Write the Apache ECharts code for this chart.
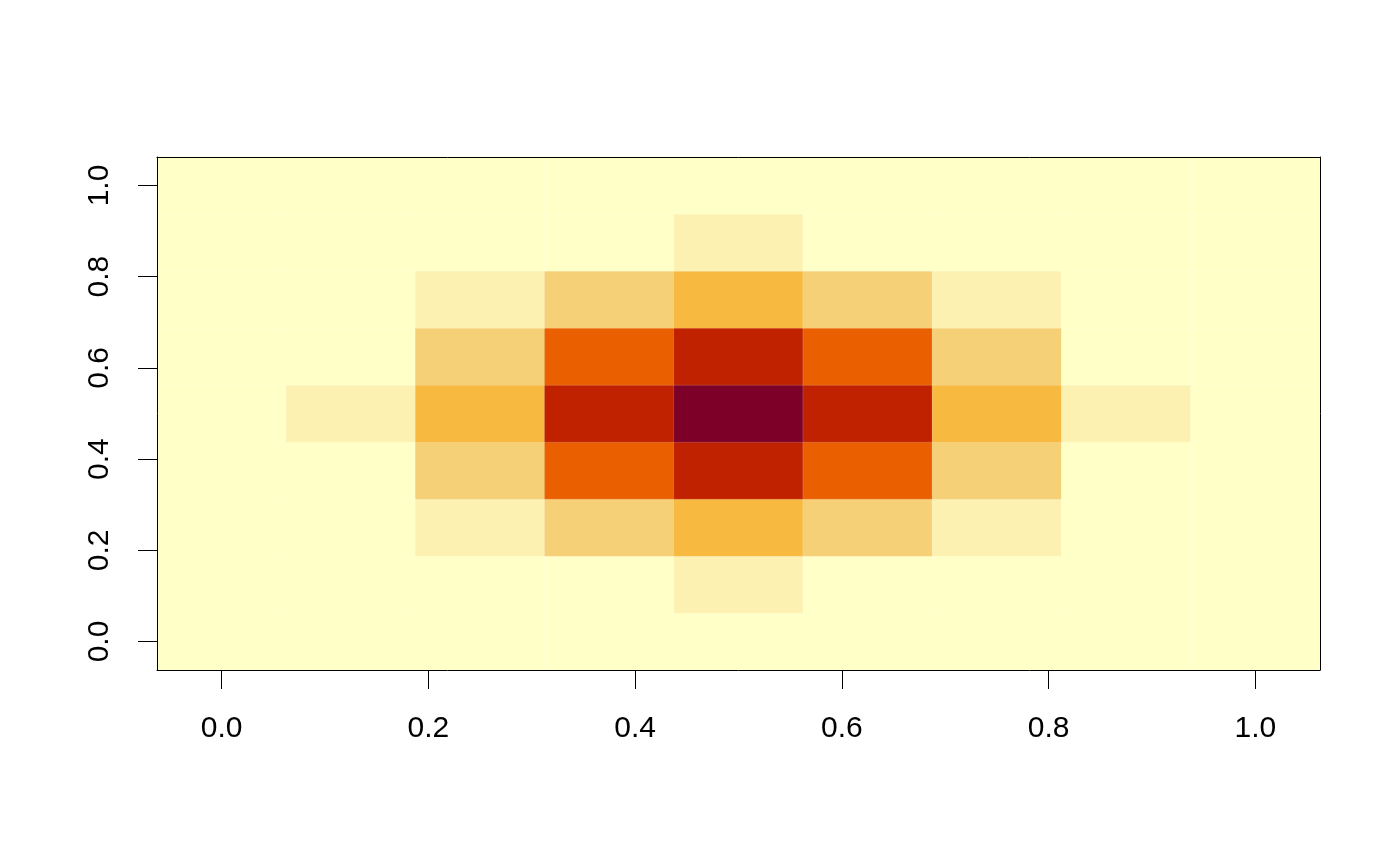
<!DOCTYPE html>
<html>
<head>
<meta charset="utf-8">
<script src="https://cdn.jsdelivr.net/npm/echarts@6/dist/echarts.min.js"></script>
<style>
  html, body { margin: 0; padding: 0; background: #fff; }
  #main { width: 1400px; height: 866px; }
</style>
</head>
<body>
<div id="main"></div>
<script>
// cell centres on both axes
let cellCenters = ['0', '0.125', '0.25', '0.375', '0.5', '0.625', '0.75', '0.875', '1'];
let tickValues = [0, 0.2, 0.4, 0.6, 0.8, 1.0];

// colour level of each cell, rows from bottom (y=0) to top (y=1), columns x=0..1
let row0 = [0, 0, 0, 0, 0, 0, 0, 0, 0];
let row1 = [0, 0, 0, 0, 1, 0, 0, 0, 0];
let row2 = [0, 0, 1, 2, 3, 2, 1, 0, 0];
let row3 = [0, 0, 2, 4, 5, 4, 2, 0, 0];
let row4 = [0, 1, 3, 5, 6, 5, 3, 1, 0];
let row5 = [0, 0, 2, 4, 5, 4, 2, 0, 0];
let row6 = [0, 0, 1, 2, 3, 2, 1, 0, 0];
let row7 = [0, 0, 0, 0, 1, 0, 0, 0, 0];
let row8 = [0, 0, 0, 0, 0, 0, 0, 0, 0];
let rows = [row0, row1, row2, row3, row4, row5, row6, row7, row8];

let levelColors = ['#FFFFC8', '#FDF1B2', '#F6D076', '#F7B940', '#EA6000', '#C02200', '#7C0027'];

let heatData = [];
for (let j = 0; j < rows.length; j++) {
    for (let i = 0; i < rows[j].length; i++) {
        heatData.push([i, j, rows[j][i]]);
    }
}

let myChart = echarts.init(document.getElementById('main'));

let labelFont = {
    fontFamily: 'Liberation Sans, Arial, sans-serif',
    fontSize: 30,
    color: '#000'
};

let option = {
    animation: false,
    backgroundColor: '#fff',
    grid: {
        left: 157,
        right: 80,
        top: 157,
        bottom: 196
    },
    visualMap: {
        show: false,
        type: 'piecewise',
        seriesIndex: 0,
        dimension: 2,
        pieces: levelColors.map((c, k) => ({ value: k, color: c }))
    },
    xAxis: [{
        type: 'value',
        position: 'bottom',
        min: -0.0625,
        max: 1.0625,
        z: 10,
        splitLine: { show: false },
        axisLine: { show: true, onZero: false, lineStyle: { color: '#000', width: 1 } },
        axisTick: {
            show: true,
            inside: false,
            length: 19,
            customValues: tickValues,
            lineStyle: { color: '#000', width: 1 }
        },
        axisLabel: Object.assign({
            margin: 44,
            customValues: tickValues,
            formatter: v => v.toFixed(1)
        }, labelFont)
    }, {
        type: 'category',
        position: 'top',
        data: cellCenters,
        z: 10,
        axisLine: { show: true, onZero: false, lineStyle: { color: '#000', width: 1 } },
        axisTick: { show: false },
        axisLabel: { show: false },
        splitLine: { show: false }
    }],
    yAxis: [{
        type: 'value',
        position: 'left',
        min: -0.0625,
        max: 1.0625,
        z: 10,
        splitLine: { show: false },
        axisLine: { show: true, onZero: false, lineStyle: { color: '#000', width: 1 } },
        axisTick: {
            show: true,
            inside: false,
            length: 19,
            customValues: tickValues,
            lineStyle: { color: '#000', width: 1 }
        },
        axisLabel: Object.assign({
            margin: 42,
            rotate: 90,
            customValues: tickValues,
            formatter: v => v.toFixed(1)
        }, labelFont)
    }, {
        type: 'category',
        position: 'right',
        data: cellCenters,
        z: 10,
        axisLine: { show: true, onZero: false, lineStyle: { color: '#000', width: 1 } },
        axisTick: { show: false },
        axisLabel: { show: false },
        splitLine: { show: false }
    }],
    series: [{
        type: 'heatmap',
        xAxisIndex: 1,
        yAxisIndex: 1,
        data: heatData,
        itemStyle: {
            borderColor: 'rgba(255,255,255,0.25)',
            borderWidth: 0.6
        },
        emphasis: { disabled: true }
    }]
};
myChart.setOption(option);
</script>
</body>
</html>
